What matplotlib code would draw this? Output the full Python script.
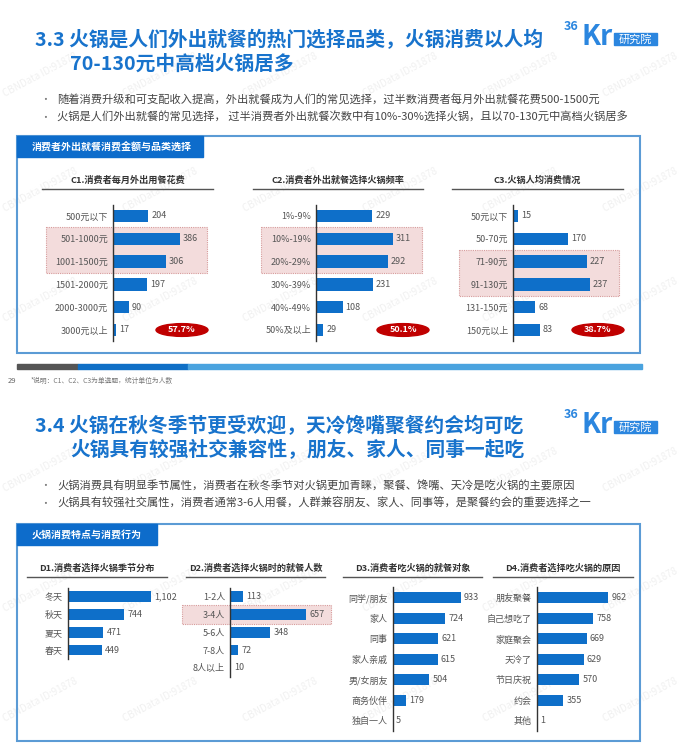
import matplotlib
matplotlib.use('Agg')
import matplotlib.pyplot as plt
from matplotlib.patches import Rectangle, Ellipse
from matplotlib.transforms import blended_transform_factory

plt.rcParams['font.family'] = ['Noto Sans CJK SC', 'DejaVu Sans']

W, H = 680, 748
BLUE = '#1873cc'
BAR = '#0e6fc9'
GRAY = '#555555'

# ---- data ----
c1_cats = ['500元以下', '501-1000元', '1001-1500元', '1501-2000元', '2000-3000元', '3000元以上']
c1_vals = [204, 386, 306, 197, 90, 17]
c2_cats = ['1%-9%', '10%-19%', '20%-29%', '30%-39%', '40%-49%', '50%及以上']
c2_vals = [229, 311, 292, 231, 108, 29]
c3_cats = ['50元以下', '50-70元', '71-90元', '91-130元', '131-150元', '150元以上']
c3_vals = [15, 170, 227, 237, 68, 83]
c_share = ['57.7%', '50.1%', '38.7%']

d1_cats = ['冬天', '秋天', '夏天', '春天']
d1_vals = [1102, 744, 471, 449]
d2_cats = ['1-2人', '3-4人', '5-6人', '7-8人', '8人以上']
d2_vals = [113, 657, 348, 72, 10]
d3_cats = ['同学/朋友', '家人', '同事', '家人亲戚', '男/女朋友', '商务伙伴', '独自一人']
d3_vals = [933, 724, 621, 615, 504, 179, 5]
d4_cats = ['朋友聚餐', '自己想吃了', '家庭聚会', '天冷了', '节日庆祝', '约会', '其他']
d4_vals = [962, 758, 669, 629, 570, 355, 1]

fig = plt.figure(figsize=(W / 100, H / 100), dpi=100)
bg = fig.add_axes([0, 0, 1, 1])
bg.set_xlim(0, W)
bg.set_ylim(H, 0)
bg.axis('off')

# faint watermarks
for wy in [75, 190, 300, 470, 590, 700]:
    for wx in [40, 160, 280, 400, 520, 640]:
        bg.text(wx, wy, 'CBNData ID:91878', rotation=28, fontsize=7, color='#f0f0f0',
                ha='center', va='center', zorder=0)


def logo(y):
    bg.text(564, y - 13, '36', fontsize=9, fontweight='bold', color='#2b86df', va='center')
    bg.text(581, y - 2, 'Kr', fontsize=20, fontweight='bold', color='#2b86df', va='center')
    bg.add_patch(Rectangle((614, y - 6), 43, 12, color='#2b86df', zorder=2))
    bg.text(635.5, y, '研究院', fontsize=8, color='white', ha='center', va='center', zorder=3)


def slide_head(y0, line1, line2, bullets):
    bg.text(35, y0, line1, fontsize=14.2, fontweight='bold', color=BLUE, va='center')
    bg.text(70, y0 + 24, line2, fontsize=14.2, fontweight='bold', color=BLUE, va='center')
    for k, b in enumerate(bullets):
        yy = y0 + 60 + k * 17.5
        bg.text(40, yy, '•', fontsize=7, color='#777777', va='center')
        bg.text(57, yy, b, fontsize=8.1, color='#444444', va='center')


def panel(top, bottom, head_w, title):
    bg.add_patch(Rectangle((17, top), 623, bottom - top, fill=False, edgecolor='#5b9bd5', lw=1.5))
    bg.add_patch(Rectangle((17, top), head_w, 21, color='#0d6ccb'))
    bg.text(32, top + 10.5, title, fontsize=7.2, fontweight='bold', color='white', va='center')


def subtitle(x0, x1, y, text):
    bg.text((x0 + x1) / 2, y, text, fontsize=6.6, fontweight='bold', color='#333333',
            ha='center', va='center')
    bg.plot([x0, x1], [y + 9, y + 9], color='#555555', lw=1)


def chart(axis_x, first_y, step, bar_px, scale, cats, vals, fmt='{}', width=170):
    n = len(cats)
    top = first_y - step / 2
    h = n * step
    ax = fig.add_axes([axis_x / W, 1 - (top + h) / H, width / W, h / H])
    ax.patch.set_visible(False)
    ax.set_xlim(0, width / scale)
    ax.set_ylim(n - 0.5, -0.5)
    ax.barh(range(n), vals, height=bar_px / step, color=BAR, zorder=3)
    ax.set_yticks(range(n), cats)
    ax.set_xticks([])
    ax.tick_params(axis='y', length=0, pad=3.6, labelsize=6.5, labelcolor=GRAY)
    for s in ['top', 'right', 'bottom']:
        ax.spines[s].set_visible(False)
    ax.spines['left'].set_color('#333333')
    ax.spines['left'].set_linewidth(1)
    ax.spines['left'].set_zorder(4)
    for i, v in enumerate(vals):
        ax.annotate(fmt.format(v), (v, i), xytext=(2.2, 0), textcoords='offset points',
                    fontsize=6.5, color=GRAY, va='center', ha='left', zorder=4)
    return ax


def highlight(ax, x0, x1, r0, r1):
    tr = blended_transform_factory(bg.transData, ax.transData)
    ax.add_patch(Rectangle((x0, r0 - 0.52), x1 - x0, r1 - r0 + 1.04, transform=tr,
                           facecolor='#f3dcdc', edgecolor='#d79b9b', lw=0.8,
                           linestyle=(0, (1, 1)), clip_on=False, zorder=1))


def share(ax, xc, row, text):
    tr = blended_transform_factory(bg.transData, ax.transData)
    ax.add_patch(Ellipse((xc, row), 52, 0.56, transform=tr, color='#c00000',
                         clip_on=False, zorder=5))
    ax.text(xc, row, text, transform=tr, fontsize=6.5, fontweight='bold', color='white',
            ha='center', va='center', zorder=6)


# ---- slide 3.3 ----
slide_head(40, '3.3 火锅是人们外出就餐的热门选择品类，火锅消费以人均',
           '70-130元中高档火锅居多',
           ['随着消费升级和可支配收入提高，外出就餐成为人们的常见选择，过半数消费者每月外出就餐花费500-1500元',
            '火锅是人们外出就餐的常见选择， 过半消费者外出就餐次数中有10%-30%选择火锅，且以70-130元中高档火锅居多'])
logo(39)
panel(136, 353, 186, '消费者外出就餐消费金额与品类选择')
subtitle(42, 213, 180, 'C1.消费者每月外出用餐花费')
subtitle(253, 423, 180, 'C2.消费者外出就餐选择火锅频率')
subtitle(452, 623, 180, 'C3.火锅人均消费情况')

a1 = chart(113, 216, 22.8, 12.5, 67 / 386, c1_cats, c1_vals)
a2 = chart(316, 216, 22.8, 12.5, 76.7 / 311, c2_cats, c2_vals)
a3 = chart(513, 216, 22.8, 12.5, 77 / 237, c3_cats, c3_vals)
highlight(a1, 46, 207, 1, 2)
highlight(a2, 261, 422, 1, 2)
highlight(a3, 459, 619, 2, 3)
share(a1, 182, 5, c_share[0])
share(a2, 403, 5, c_share[1])
share(a3, 598, 5, c_share[2])

bg.add_patch(Rectangle((17, 364), 61, 4.5, color='#555555'))
bg.add_patch(Rectangle((78, 364), 110, 4.5, color='#0f6fc6'))
bg.add_patch(Rectangle((188, 364), 454, 4.5, color='#4aa3df'))
bg.text(8, 381, '29', fontsize=5.5, color='#666666', va='center')
bg.text(31, 381, '*说明：C1、C2、C3为单选题，统计单位为人数', fontsize=4.9, color='#777777', va='center')

# ---- slide 3.4 ----
slide_head(426, '3.4 火锅在秋冬季节更受欢迎，天冷馋嘴聚餐约会均可吃',
           '火锅具有较强社交兼容性，朋友、家人、同事一起吃',
           ['火锅消费具有明显季节属性，消费者在秋冬季节对火锅更加青睐，聚餐、馋嘴、天冷是吃火锅的主要原因',
            '火锅具有较强社交属性，消费者通常3-6人用餐，人群兼容朋友、家人、同事等，是聚餐约会的重要选择之一'])
logo(427)
panel(524, 741, 140, '火锅消费特点与消费行为')
subtitle(27, 167, 568, 'D1.消费者选择火锅季节分布')
subtitle(186, 325, 568, 'D2.消费者选择火锅时的就餐人数')
subtitle(343, 482, 568, 'D3.消费者吃火锅的就餐对象')
subtitle(493, 633, 568, 'D4.消费者选择吃火锅的原因')

b1 = chart(68, 596.7, 17.8, 10.5, 83 / 1102, d1_cats, d1_vals, fmt='{:,}', width=110)
b2 = chart(230, 596.7, 17.8, 10.5, 76 / 657, d2_cats, d2_vals, width=110)
b3 = chart(392.7, 597.7, 20.5, 11, 68 / 933, d3_cats, d3_vals, width=110)
b4 = chart(536.7, 597.7, 20.5, 11, 71.7 / 962, d4_cats, d4_vals, width=110)
highlight(b2, 182, 331, 1, 1)

fig.savefig('out.png', dpi=100)
